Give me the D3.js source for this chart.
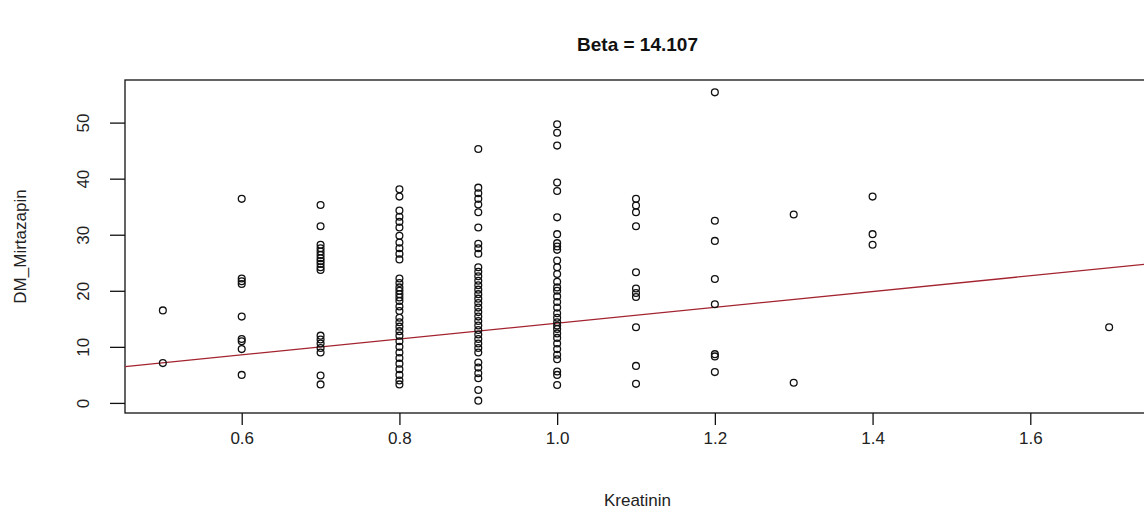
<!DOCTYPE html>
<html>
<head>
<meta charset="utf-8">
<script src="https://cdn.jsdelivr.net/npm/d3@7"></script>
<style>
  body { margin: 0; background: #fff; }
  svg { display: block; font-family: "Liberation Sans", Arial, sans-serif; }
</style>
</head>
<body>
<svg id="chart"></svg>
<script>
// Kreatinin levels and the DM_Mirtazapin values observed at each level
var kreatinin = [0.5, 0.6, 0.7, 0.8, 0.9, 1.0, 1.1, 1.2, 1.3, 1.4, 1.7];
var dm05 = [16.5, 7.1];
var dm06 = [36.4, 22.2, 21.7, 21.2, 15.4, 11.4, 11.0, 9.6, 5.0];
var dm07 = [35.3, 31.5, 28.2, 27.6, 27.0, 26.4, 25.8, 25.3, 24.8, 24.2, 23.7, 12.0, 11.3, 10.6, 9.8, 9.0, 4.9, 3.3];
var dm08 = [38.1, 36.8, 34.3, 33.2, 32.3, 31.3, 29.8, 28.6, 27.6, 26.6, 25.6, 22.2, 21.4, 20.6, 20.0,
            19.4, 18.8, 18.2, 17.2, 16.4, 15.2, 14.4, 13.6, 12.8, 12.0, 11.0, 10.0, 9.0, 8.0, 7.0,
            6.0, 5.0, 4.0, 3.3];
var dm09 = [45.3, 38.4, 37.4, 36.4, 35.4, 34.0, 31.3, 28.4, 27.6, 26.6, 24.2, 23.4, 22.6, 21.8, 21.0,
            20.2, 19.4, 18.6, 17.8, 17.0, 16.2, 15.4, 14.6, 13.8, 13.0, 12.2, 11.4, 10.6, 9.8, 9.0,
            7.2, 6.3, 5.3, 4.4, 2.3, 0.4];
var dm10 = [49.7, 48.2, 45.9, 39.3, 37.8, 33.1, 30.1, 28.5, 27.9, 27.3, 25.4, 24.2, 23.0, 21.6, 20.6,
            20.0, 19.0, 18.0, 17.0, 16.0, 15.2, 14.4, 13.8, 13.2, 12.4, 11.6, 10.6, 9.6, 8.6, 7.8,
            5.6, 5.0, 3.2];
var dm11 = [36.4, 35.2, 34.0, 31.5, 23.3, 20.4, 19.6, 18.9, 13.5, 6.6, 3.4];
var dm12 = [55.4, 32.5, 28.9, 22.1, 17.6, 8.7, 8.3, 5.5];
var dm13 = [33.6, 3.6];
var dm14 = [36.8, 30.1, 28.2];
var dm17 = [13.5];
var dmByLevel = [dm05, dm06, dm07, dm08, dm09, dm10, dm11, dm12, dm13, dm14, dm17];

var xTicks = [0.6, 0.8, 1.0, 1.2, 1.4, 1.6];
var yTicks = [0, 10, 20, 30, 40, 50];

var beta = 14.107;
var intercept = 0.11;

var W = 1144, H = 532;
var margin = {top: 80, right: -3, bottom: 119, left: 125};
var width = W - margin.left - margin.right;
var height = H - margin.top - margin.bottom;

// flatten to points
var points = [];
kreatinin.forEach(function(k, i) {
  dmByLevel[i].forEach(function(v) { points.push({x: k, y: v}); });
});

// R-style 4% extension of the data range
function pad(ext) {
  var d = (ext[1] - ext[0]) * 0.04;
  return [ext[0] - d, ext[1] + d];
}

var x = d3.scaleLinear().domain(pad(d3.extent(points, (d) => d.x))).range([0, width]);
var y = d3.scaleLinear().domain(pad(d3.extent(points, (d) => d.y))).range([height, 0]);

var svg = d3.select("#chart")
    .attr("width", W)
    .attr("height", H);

var g = svg.append("g")
    .attr("transform", "translate(" + margin.left + "," + margin.top + ")");

g.append("clipPath").attr("id", "clip")
  .append("rect").attr("width", width).attr("height", height);

// x axis
var xAxis = g.append("g")
    .attr("transform", "translate(0," + height + ")")
    .call(d3.axisBottom(x).tickValues(xTicks).tickFormat(d3.format(".1f")).tickSize(12).tickSizeOuter(0));
xAxis.select(".domain").remove();
xAxis.selectAll("line").attr("stroke", "#111").attr("stroke-width", 1.3);
xAxis.selectAll("text").attr("font-size", 17).attr("fill", "#222")
    .attr("font-family", "Liberation Sans, Arial, sans-serif").attr("dy", "0.95em");

// y axis, labels rotated like R
var yAxis = g.append("g")
    .call(d3.axisLeft(y).tickValues(yTicks).tickSize(15).tickSizeOuter(0));
yAxis.select(".domain").remove();
yAxis.selectAll("line").attr("stroke", "#111").attr("stroke-width", 1.3);
yAxis.selectAll("text")
    .attr("font-size", 17).attr("fill", "#222")
    .attr("font-family", "Liberation Sans, Arial, sans-serif")
    .attr("x", null).attr("dy", null)
    .attr("text-anchor", "middle")
    .attr("transform", "translate(-42,0) rotate(-90)")
    .attr("dominant-baseline", "central");

// box
g.append("rect")
    .attr("width", width).attr("height", height)
    .attr("fill", "none").attr("stroke", "#111").attr("stroke-width", 1.3);

// regression line
var xd = x.domain();
g.append("line")
    .attr("clip-path", "url(#clip)")
    .attr("x1", x(xd[0])).attr("y1", y(intercept + beta * xd[0]))
    .attr("x2", x(xd[1])).attr("y2", y(intercept + beta * xd[1]))
    .attr("stroke", "#a3232f").attr("stroke-width", 1.3);

// points
g.append("g").selectAll("circle")
  .data(points)
  .enter()
  .append("circle")
  .attr("cx", (d) => x(d.x))
  .attr("cy", (d) => y(d.y))
  .attr("r", 3.4)
  .attr("fill", "none")
  .attr("stroke", "#111")
  .attr("stroke-width", 1.3);

// title and axis labels
svg.append("text")
    .attr("x", margin.left + (W - margin.left) / 2 + 3).attr("y", 51)
    .attr("text-anchor", "middle")
    .attr("font-size", 19).attr("font-weight", "bold").attr("fill", "#111")
    .text("Beta = 14.107");

svg.append("text")
    .attr("x", margin.left + (W - margin.left) / 2 + 3).attr("y", 506)
    .attr("text-anchor", "middle")
    .attr("font-size", 17).attr("fill", "#222")
    .text("Kreatinin");

svg.append("text")
    .attr("transform", "translate(26," + (margin.top + height / 2) + ") rotate(-90)")
    .attr("text-anchor", "middle")
    .attr("font-size", 17).attr("fill", "#222")
    .text("DM_Mirtazapin");
</script>
</body>
</html>
